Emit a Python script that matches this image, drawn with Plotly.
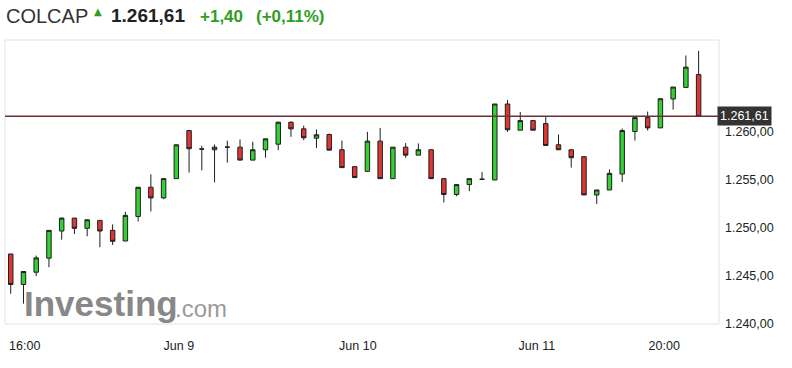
import plotly.graph_objects as go

# ---- data (30-minute candles) ----
opens = [1247.27, 1244.09, 1245.37, 1246.83, 1249.66, 1251.01, 1249.94, 1250.77, 1249.73, 1248.62,
         1251.18, 1254.22, 1253.11, 1255.12, 1260.13, 1258.22, 1258.13, 1258.40, 1258.40, 1257.05,
         1258.13, 1258.71, 1261.00, 1260.31, 1259.34, 1259.72, 1258.13, 1256.37, 1255.88, 1259.03,
         1255.12, 1258.40, 1257.57, 1258.13, 1255.12, 1253.47, 1254.50, 1255.05, 1254.98, 1262.90,
         1260.17, 1261.17, 1260.86, 1258.65, 1258.13, 1257.41, 1253.42, 1253.94, 1255.60, 1260.03,
         1261.48, 1260.41, 1263.42, 1264.63, 1265.97]
highs = [1247.27, 1245.44, 1247.10, 1249.73, 1251.05, 1251.01, 1250.90, 1250.77, 1250.35, 1251.66,
         1254.22, 1255.57, 1255.15, 1258.65, 1260.17, 1258.55, 1258.68, 1259.07, 1259.20, 1258.96,
         1259.27, 1261.07, 1261.10, 1260.65, 1260.24, 1259.82, 1259.10, 1256.37, 1260.00, 1260.41,
         1258.40, 1258.82, 1258.79, 1258.13, 1255.12, 1254.50, 1255.12, 1255.81, 1262.90, 1263.32,
         1262.07, 1261.17, 1261.62, 1259.72, 1258.13, 1257.41, 1253.94, 1256.09, 1260.34, 1261.48,
         1262.11, 1263.45, 1264.67, 1267.95, 1268.43]
lows = [1243.12, 1242.09, 1244.96, 1245.89, 1248.76, 1249.35, 1249.11, 1247.97, 1248.21, 1248.62,
        1250.66, 1251.70, 1252.98, 1255.12, 1255.75, 1255.99, 1254.74, 1256.78, 1257.05, 1257.05,
        1257.30, 1258.09, 1259.48, 1259.13, 1258.30, 1258.09, 1256.27, 1255.23, 1255.88, 1255.12,
        1255.12, 1257.30, 1257.57, 1255.12, 1252.64, 1253.29, 1253.81, 1255.05, 1254.98, 1260.00,
        1260.17, 1260.17, 1258.58, 1258.13, 1256.27, 1253.42, 1252.49, 1253.94, 1254.77, 1259.10,
        1260.13, 1260.41, 1262.31, 1264.63, 1261.61]
closes = [1244.09, 1245.44, 1246.86, 1249.73, 1251.01, 1249.94, 1250.83, 1249.66, 1248.59, 1251.29,
          1254.22, 1253.11, 1255.12, 1258.65, 1258.24, 1258.20, 1258.40, 1258.41, 1257.05, 1258.13,
          1259.27, 1261.00, 1260.31, 1259.38, 1259.69, 1258.09, 1256.27, 1255.23, 1259.03, 1255.12,
          1258.40, 1257.57, 1258.13, 1255.12, 1253.47, 1254.50, 1255.12, 1255.06, 1262.90, 1260.21,
          1261.17, 1260.17, 1258.58, 1258.13, 1257.30, 1253.42, 1253.94, 1255.67, 1260.13, 1261.48,
          1260.41, 1263.45, 1264.67, 1266.74, 1261.61]

x_tick_labels = ["16:00", "Jun 9", "Jun 10", "Jun 11", "20:00"]
x_tick_pos = [1.1, 13.2, 27.25, 41.3, 51.3]
y_tick_values = [1240, 1245, 1250, 1255, 1260]

last_price = 1261.61
title_name = "COLCAP"
price_text = "1.261,61"
change_text = "+1,40"
change_pct_text = "(+0,11%)"

# ---- layout helpers (pixel -> paper) ----
L, R, T, B = 5, 719, 40, 324
W, H = 792, 368


def px_x(px):
    return (px - L) / (R - L)


def px_y(py):
    return (B - py) / (B - T)


idx = list(range(len(opens)))

fig = go.Figure()
fig.add_trace(go.Candlestick(
    x=idx, open=opens, high=highs, low=lows, close=closes,
    increasing=dict(fillcolor="#34d134", line=dict(color="#1e1e1e", width=1)),
    decreasing=dict(fillcolor="#e03535", line=dict(color="#1e1e1e", width=1)),
    whiskerwidth=0,
    hoverinfo="skip",
    showlegend=False,
))

FONT = "Liberation Sans, Arial, sans-serif"
GREEN = "#2f9e22"

annotations = [
    dict(text=title_name, x=px_x(4), y=px_y(15.5), xanchor="left", yanchor="middle",
         font=dict(family=FONT, size=20, color="#333333")),
    dict(text="▲", x=px_x(97.5), y=px_y(11.5), xanchor="center", yanchor="middle",
         font=dict(family="DejaVu Sans", size=10, color=GREEN)),
    dict(text="<b>" + price_text + "</b>", x=px_x(109), y=px_y(15.8), xanchor="left", yanchor="middle",
         font=dict(family=FONT, size=19, color="#222222")),
    dict(text="<b>" + change_text + "</b>", x=px_x(198), y=px_y(16.6), xanchor="left", yanchor="middle",
         font=dict(family=FONT, size=17, color=GREEN)),
    dict(text="<b>" + change_pct_text + "</b>", x=px_x(254), y=px_y(16.6), xanchor="left", yanchor="middle",
         font=dict(family=FONT, size=17, color=GREEN)),
    # last price label box
    dict(text=price_text, xref="paper", yref="y", x=px_x(717), y=last_price,
         xanchor="left", yanchor="middle", bgcolor="#333333", borderpad=2,
         font=dict(family=FONT, size=12.5, color="#ffffff")),
]
for a in annotations:
    a.setdefault("xref", "paper")
    a.setdefault("yref", "paper")
    a["showarrow"] = False

shapes = [
    # frame
    dict(type="rect", xref="paper", yref="paper", x0=0, x1=1, y0=0, y1=1,
         line=dict(color="#e2e2e2", width=1), fillcolor="rgba(0,0,0,0)", layer="below"),
    # last price line
    dict(type="line", xref="paper", yref="y", x0=0, x1=1, y0=last_price, y1=last_price,
         line=dict(color="#6e3030", width=1.5), layer="above"),
    # watermark
    dict(type="rect", xref="paper", yref="paper", x0=px_x(21), x1=px_x(176), y0=px_y(317), y1=px_y(283),
         line=dict(width=0), fillcolor="rgba(0,0,0,0)", layer="below",
         label=dict(text="<b>Investing</b>", textposition="middle left", padding=0,
                    font=dict(family=FONT, size=35, color="#888888"))),
    dict(type="rect", xref="paper", yref="paper", x0=px_x(172), x1=px_x(230), y0=px_y(317), y1=px_y(295),
         line=dict(width=0), fillcolor="rgba(0,0,0,0)", layer="below",
         label=dict(text=".com", textposition="middle left", padding=0,
                    font=dict(family=FONT, size=24, color="#9a9a9a"))),
]

fig.update_layout(
    width=W, height=H,
    margin=dict(l=L, r=W - R, t=T, b=H - B),
    paper_bgcolor="white", plot_bgcolor="white",
    separators=",.",
    boxgap=0.5,
    showlegend=False,
    hovermode=False,
    annotations=annotations,
    shapes=shapes,
    xaxis=dict(range=[-0.45, 55.6], rangeslider=dict(visible=False), showgrid=False, zeroline=False,
               showline=False, tickmode="array", tickvals=x_tick_pos, ticktext=x_tick_labels,
               ticks="", ticklabelstandoff=12, automargin=False,
               tickfont=dict(family=FONT, size=12.5, color="#222222")),
    yaxis=dict(range=[1239.97, 1269.57], side="right", showgrid=False, zeroline=False, showline=False,
               tickmode="array", tickvals=y_tick_values, tickformat=",.2f", ticks="",
               ticklabelstandoff=5, automargin=False,
               tickfont=dict(family=FONT, size=12.5, color="#222222")),
)

fig.write_html("out.html", config={"displayModeBar": False, "staticPlot": True},
               post_script="document.body.style.margin='0px';document.body.style.overflow='hidden';")
